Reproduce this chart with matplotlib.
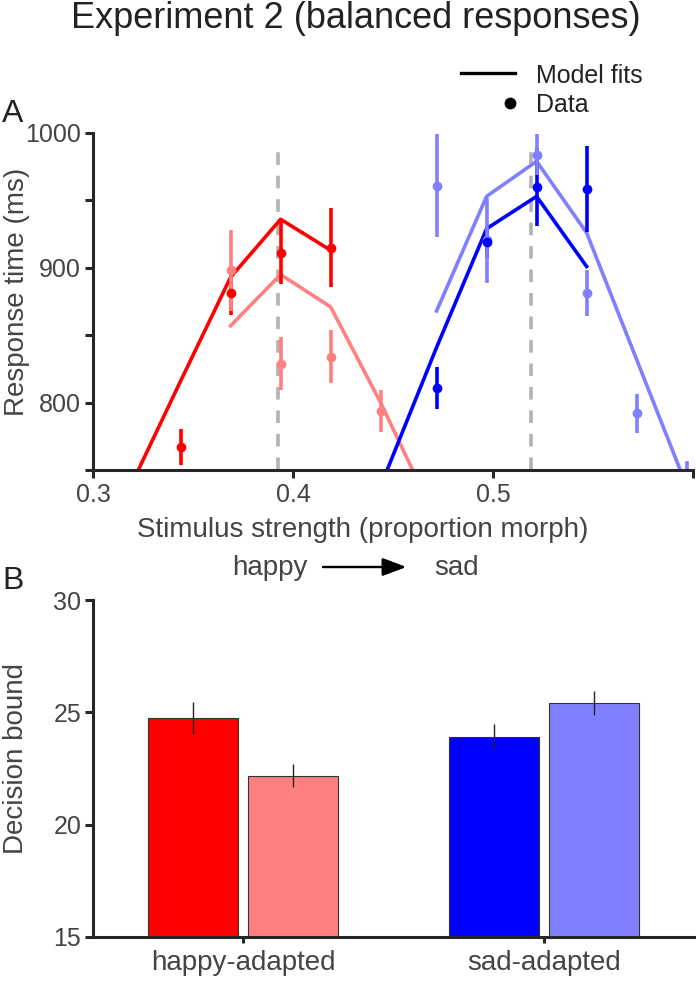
import matplotlib.pyplot as plt
from matplotlib.lines import Line2D

plt.rcParams['font.family'] = ['Liberation Sans', 'DejaVu Sans']

W, H = 696, 986

# ---- panel A data (stimulus strength vs response time) ----
red_x = [0.3438, 0.3688, 0.3938, 0.4188]
red_rt = [767, 881, 911, 915]
red_err = [13.5, 16, 23, 29.5]
red_fit_x = [0.3188, 0.3438, 0.3688, 0.3938, 0.4188]
red_fit = [738, 816, 893, 936, 913]

pink_x = [0.3688, 0.3938, 0.4188, 0.4438]
pink_rt = [898, 829, 834, 794]
pink_err = [30, 20, 19.5, 15.5]
pink_fit_x = [0.3688, 0.3938, 0.4188, 0.4438, 0.4688]
pink_fit = [857, 895, 871, 800, 722]

blue_x = [0.4718, 0.4968, 0.5218, 0.5468]
blue_rt = [811, 919, 960, 958.5]
blue_err = [15.5, 12, 29, 32]
blue_fit_x = [0.4468, 0.4718, 0.4968, 0.5218, 0.5468]
blue_fit = [749, 841, 929, 953, 901]

lblue_x = [0.4718, 0.4968, 0.5218, 0.5468, 0.5718, 0.5968]
lblue_rt = [961, 920.5, 984, 881, 792, 735]
lblue_err = [38, 31.5, 15, 17, 14.5, 22]
lblue_fit_x = [0.4718, 0.4968, 0.5218, 0.5468, 0.5718, 0.5968]
lblue_fit = [868, 953, 979, 926, 832, 738]

bounds_x = [0.3923, 0.5188]

# ---- panel B data (decision bound) ----
groups = ['happy-adapted', 'sad-adapted']
bound_a = [24.75, 23.92]
bound_a_err = [0.72, 0.56]
bound_b = [22.18, 25.41]
bound_b_err = [0.52, 0.52]

RED, PINK, BLUE, LBLUE = '#ff0000', '#ff8080', '#0000ff', '#8080ff'
SPINE = '#262626'
TXT = '#444444'


def fx(x):
    return x / W


def fy(y):
    return 1 - y / H


fig = plt.figure(figsize=(W / 100, H / 100), dpi=100)

# panel A
axA = fig.add_axes([fx(93), fy(470), fx(693) - fx(93), fy(133) - fy(470)])
lw = 2.6
axA.vlines(bounds_x, 750, 990, colors='#b3b3b3', lw=lw, linestyles=(0, (3.5, 3)))
axA.plot(red_fit_x, red_fit, color=RED, lw=lw)
axA.plot(pink_fit_x, pink_fit, color=PINK, lw=lw)
axA.plot(blue_fit_x, blue_fit, color=BLUE, lw=lw)
axA.plot(lblue_fit_x, lblue_fit, color=LBLUE, lw=lw)
for xs, ys, es, c in [(red_x, red_rt, red_err, RED), (pink_x, pink_rt, pink_err, PINK),
                      (blue_x, blue_rt, blue_err, BLUE), (lblue_x, lblue_rt, lblue_err, LBLUE)]:
    axA.errorbar(xs, ys, yerr=es, fmt='none', ecolor=c, elinewidth=lw, capsize=0)
for xs, ys, c in [(pink_x, pink_rt, PINK), (lblue_x, lblue_rt, LBLUE),
                  (red_x, red_rt, RED), (blue_x, blue_rt, BLUE)]:
    axA.plot(xs, ys, 'o', color=c, ms=6, ls='none')

axA.set_xlim(0.3, 0.6)
axA.set_ylim(750, 1000)
axA.set_xticks([0.3, 0.4, 0.5, 0.6])
axA.set_xticklabels(['0.3', '0.4', '0.5', ''])
axA.set_yticks([750, 800, 850, 900, 950, 1000])
axA.set_yticklabels(['', '800', '', '900', '', '1000'])
axA.get_yticklabels()[-1].set_fontsize(14)

# panel B
axB = fig.add_axes([fx(93), fy(937), 1 - fx(93), fy(600) - fy(937)])
pos = [1, 2]
bw = 0.3
off = 0.1667
axB.bar([p - off for p in pos], [b - 15 for b in bound_a], bottom=15, width=bw,
        color=[RED, BLUE], edgecolor='#333333', lw=0.8)
axB.bar([p + off for p in pos], [b - 15 for b in bound_b], bottom=15, width=bw,
        color=[PINK, LBLUE], edgecolor='#333333', lw=0.8)
axB.errorbar([p - off for p in pos], bound_a, yerr=bound_a_err, fmt='none',
             ecolor='#222222', elinewidth=1, capsize=0)
axB.errorbar([p + off for p in pos], bound_b, yerr=bound_b_err, fmt='none',
             ecolor='#222222', elinewidth=1, capsize=0)
axB.set_xlim(0.5, 2.507)
axB.set_ylim(15, 30)
axB.set_xticks(pos)
axB.set_xticklabels(groups, fontsize=20)
axB.set_yticks([15, 20, 25, 30])

for ax in (axA, axB):
    for s in ('top', 'right'):
        ax.spines[s].set_visible(False)
    for s in ('left', 'bottom'):
        ax.spines[s].set_linewidth(2.2)
        ax.spines[s].set_color(SPINE)
    ax.tick_params(direction='out', length=5.5, width=2.2, color=SPINE,
                   labelcolor=TXT, pad=3)
    ax.tick_params(axis='y', labelsize=18)
axA.tick_params(axis='x', labelsize=18, pad=4)
axB.tick_params(axis='x', length=4, pad=5)

# texts
fig.text(fx(356), fy(28), 'Experiment 2 (balanced responses)', ha='center',
         va='baseline', fontsize=26, color='#222222')
fig.text(fx(2), fy(122), 'A', fontsize=23, va='baseline', color='#222222')
fig.text(fx(2), fy(589), 'B', fontsize=23, va='baseline', color='#222222')
fig.text(fx(17), fy(292), 'Response time (ms)', rotation=90, ha='center',
         va='center', fontsize=20, color=TXT)
fig.text(fx(16), fy(758), 'Decision bound', rotation=90, ha='center',
         va='center', fontsize=20, color=TXT)
fig.text(fx(363), fy(537), 'Stimulus strength (proportion morph)', ha='center',
         va='baseline', fontsize=20, color=TXT)
fig.text(fx(308), fy(575), 'happy', ha='right', va='baseline', fontsize=20, color=TXT)
fig.text(fx(434), fy(575), 'sad', ha='left', va='baseline', fontsize=20, color=TXT)
fig.add_artist(plt.annotate('', xy=(fx(406), fy(567)), xytext=(fx(323), fy(567)),
                            xycoords='figure fraction', textcoords='figure fraction',
                            arrowprops=dict(arrowstyle='-|>,head_length=0.72,head_width=0.27',
                                            mutation_scale=20, lw=1.6, color='black',
                                            shrinkA=0, shrinkB=0)))

# legend
fig.add_artist(Line2D([fx(461), fx(515)], [fy(73), fy(73)], color='black', lw=2.4))
fig.add_artist(Line2D([fx(510)], [fy(103)], marker='o', color='black', ms=7.5, ls='none'))
fig.text(fx(536), fy(83), 'Model fits', va='baseline', fontsize=18, color='#222222')
fig.text(fx(536), fy(112), 'Data', va='baseline', fontsize=18, color='#222222')

fig.savefig('out.png', dpi=100)
